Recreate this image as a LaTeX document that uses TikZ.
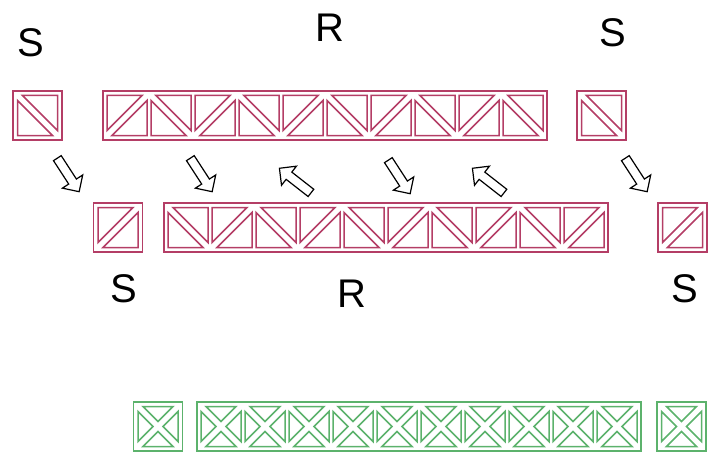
\documentclass[tikz,border=0pt]{standalone}
\usepackage{fontspec}
\setmainfont{Liberation Sans}
\usetikzlibrary{shapes.arrows}
\definecolor{trussred}{RGB}{180,62,102}
\definecolor{trussgreen}{RGB}{92,178,108}

\begin{document}
\begin{tikzpicture}[x=1pt,y=-1pt,
  frame/.style={draw,line width=1.7pt,minimum height=49pt,inner sep=0pt,outer sep=0pt},
  redframe/.style={frame,draw=trussred},
  greenframe/.style={frame,draw=trussgreen},
  redcell/.style={draw=trussred,line width=1.5pt},
  greencell/.style={draw=trussgreen,line width=1.5pt},
  letter/.style={font=\fontsize{40}{44}\selectfont,inner sep=0pt},
  flow/.style={single arrow,draw=black,fill=white,line width=1.2pt,inner sep=4pt,minimum height=40pt,single arrow head extend=7.5pt,single arrow head indent=0pt},
  cellrise/.pic={\draw (0,0) -- (35,0) -- (0,35) -- cycle; \draw (40,5) -- (40,40) -- (5,40) -- cycle;},
  cellfall/.pic={\draw (5,0) -- (40,0) -- (40,35) -- cycle; \draw (0,5) -- (0,40) -- (35,40) -- cycle;},
  cellcross/.pic={\draw (5,0) -- (35,0) -- (20,15) -- cycle; \draw (40,5) -- (40,35) -- (25,20) -- cycle;
    \draw (35,40) -- (5,40) -- (20,25) -- cycle; \draw (0,35) -- (0,5) -- (15,20) -- cycle;}]
\useasboundingbox (0,0) rectangle (718,452);

% labels
\node[letter] (s1) at (31,43) {S};
\node[letter] (r1) at (330,28) {R};
\node[letter] (s2) at (613,33) {S};
\node[letter] (s3) at (124,289) {S};
\node[letter] (r2) at (352,294) {R};
\node[letter] (s4) at (685,289) {S};

% upper row
\node[redframe,minimum width=49pt] (u0) at (37.5,115.5) {};
\node[redframe,minimum width=444pt] (u1) at (325,115.5) {};
\node[redframe,minimum width=49pt] (u2) at (601.5,115.5) {};
\pic[redcell] at (17.5,95.5) {cellfall};
\pic[redcell] at (107,95.5) {cellrise};
\pic[redcell] at (151,95.5) {cellfall};
\pic[redcell] at (195,95.5) {cellrise};
\pic[redcell] at (239,95.5) {cellfall};
\pic[redcell] at (283,95.5) {cellrise};
\pic[redcell] at (327,95.5) {cellfall};
\pic[redcell] at (371,95.5) {cellrise};
\pic[redcell] at (415,95.5) {cellfall};
\pic[redcell] at (459,95.5) {cellrise};
\pic[redcell] at (503,95.5) {cellfall};
\pic[redcell] at (581.5,95.5) {cellfall};

% lower row
\node[redframe,minimum width=49pt] (m0) at (118,227.5) {};
\node[redframe,minimum width=444pt] (m1) at (386,227.5) {};
\node[redframe,minimum width=49pt] (m2) at (682.5,227.5) {};
\pic[redcell] at (98,207.5) {cellrise};
\pic[redcell] at (168,207.5) {cellfall};
\pic[redcell] at (212,207.5) {cellrise};
\pic[redcell] at (256,207.5) {cellfall};
\pic[redcell] at (300,207.5) {cellrise};
\pic[redcell] at (344,207.5) {cellfall};
\pic[redcell] at (388,207.5) {cellrise};
\pic[redcell] at (432,207.5) {cellfall};
\pic[redcell] at (476,207.5) {cellrise};
\pic[redcell] at (520,207.5) {cellfall};
\pic[redcell] at (564,207.5) {cellrise};
\pic[redcell] at (662.5,207.5) {cellrise};

% arrows
\node[flow,rotate=-57] (a1) at (67,173) {};
\node[flow,rotate=-57] (a2) at (200,173) {};
\node[flow,rotate=142] (a3) at (297,182) {};
\node[flow,rotate=-57] (a4) at (398,175) {};
\node[flow,rotate=142] (a5) at (490,182) {};
\node[flow,rotate=-57] (a6) at (635,173) {};

% green row
\node[greenframe,minimum width=49pt] (g0) at (158,426.5) {};
\node[greenframe,minimum width=444pt] (g1) at (419,426.5) {};
\node[greenframe,minimum width=49pt] (g2) at (681.5,426.5) {};
\pic[greencell] at (138,406.5) {cellcross};
\pic[greencell] at (201,406.5) {cellcross};
\pic[greencell] at (245,406.5) {cellcross};
\pic[greencell] at (289,406.5) {cellcross};
\pic[greencell] at (333,406.5) {cellcross};
\pic[greencell] at (377,406.5) {cellcross};
\pic[greencell] at (421,406.5) {cellcross};
\pic[greencell] at (465,406.5) {cellcross};
\pic[greencell] at (509,406.5) {cellcross};
\pic[greencell] at (553,406.5) {cellcross};
\pic[greencell] at (597,406.5) {cellcross};
\pic[greencell] at (661.5,406.5) {cellcross};
\end{tikzpicture}
\end{document}
